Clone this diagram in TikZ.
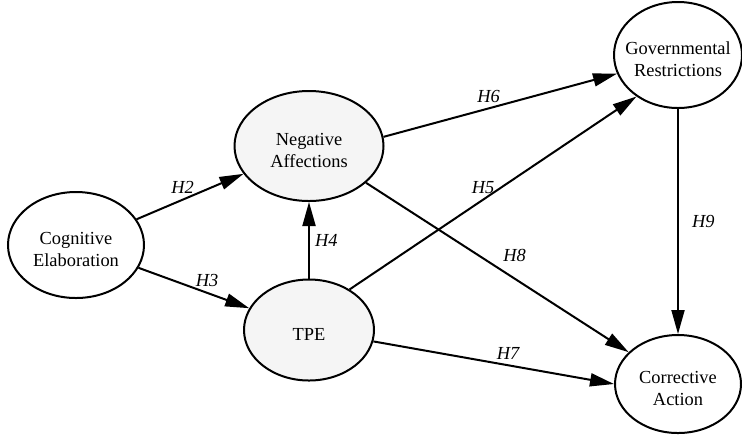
\documentclass[tikz,border=0pt]{standalone}
\usepackage{fontspec}
\setmainfont{Liberation Serif}
\usetikzlibrary{shapes.geometric,arrows.meta}
\definecolor{latentfill}{HTML}{F5F5F5}
\begin{document}
\begin{tikzpicture}[
                        x=0.5pt, y=-0.5pt,
                        >={Triangle[length=12pt,width=6.5pt]},
                        every node/.style={font=\fontsize{9.2}{11}\selectfont},
                        construct/.style={ellipse, draw, line width=1pt, inner sep=0pt},
                        ctext/.style={align=center, yshift=-2pt},
                        hyp/.style={font=\fontsize{9.2}{11}\selectfont\itshape, inner sep=2.5pt}
                    ]
                    \useasboundingbox (0,0) rectangle (742,435);
                    % Blocks
                    \node [construct, fill=white, minimum width=68pt, minimum height=53pt, label={[ctext]center:Cognitive\\Elaboration}] (CE) at (76,245) {};
                    \node [construct, fill=latentfill, minimum width=74.5pt, minimum height=55pt, label={[ctext]center:Negative\\Affections}] (NA) at (309,146) {};
                    \node [construct, fill=latentfill, minimum width=65pt, minimum height=50.5pt, label={[ctext]center:TPE}] (TPE) at (309,330) {};
                    \node [construct, fill=white, minimum width=64pt, minimum height=53pt, label={[ctext]center:Governmental\\Restrictions}] (GR) at (678,55) {};
                    \node [construct, fill=white, minimum width=63pt, minimum height=49pt, label={[ctext]center:Corrective\\Action}] (CA) at (678,384) {};

                    % Connections
                    \draw [->, line width=1pt] (CE) --node[hyp, pos=0.43, above]{H2} (NA);
                    \draw [->, line width=1pt] (CE) --node[hyp, pos=0.62, above]{H3} (TPE);
                    \draw [->, line width=1pt] (TPE) --node[hyp, midway, right]{H4} (NA);
                    \draw [->, line width=1pt] (TPE.45) --node[hyp, pos=0.465, above]{H5} (GR.225);
                    \draw [->, line width=1pt] (NA.7) --node[hyp, pos=0.45, above]{H6} (GR.197);
                    \draw [->, line width=1pt] (TPE) --node[hyp, pos=0.56, above]{H7} (CA.west);
                    \draw [->, line width=1pt] (NA) --node[hyp, pos=0.5, above right]{H8} (CA);
                    \draw [->, line width=1pt] (GR) --node[hyp, midway, right=4pt]{H9} (CA);
                \end{tikzpicture}
\end{document}
